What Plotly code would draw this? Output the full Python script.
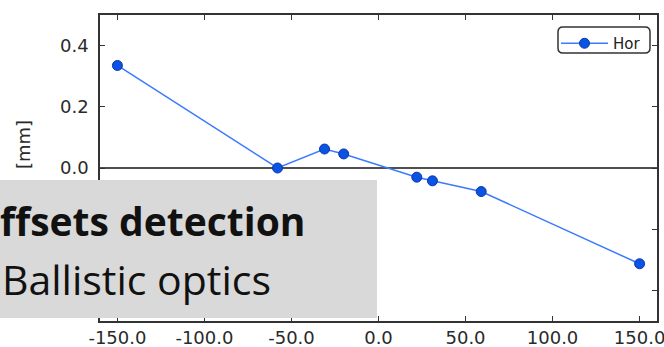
import plotly.graph_objects as go

# Horizontal offset measured at each position
position = [-150, -58, -31, -20, 22, 31, 59, 150]
offset_hor = [0.335, 0.0, 0.062, 0.046, -0.030, -0.042, -0.077, -0.313]

x_ticks = [-150, -100, -50, 0, 50, 100, 150]
y_ticks = [-0.4, -0.2, 0.0, 0.2, 0.4]
# negative y labels sit behind the caption panel
y_labels = ["", "", "0.0", "0.2", "0.4"]
x_labels = [f"{v:.1f}" for v in x_ticks]

FIG_W, FIG_H = 664, 347
M_L, M_R, M_T, M_B = 100, 7, 15, 26
PW = FIG_W - M_L - M_R
PH = FIG_H - M_T - M_B


def px(xp):
    return (xp - M_L) / PW


def py(yp):
    return (FIG_H - M_B - yp) / PH


def rounded_rect(x0, y0, x1, y1, r):
    # rounded rectangle path (pixel input, paper output)
    pts = [
        f"M {px(x0 + r)} {py(y0)}",
        f"L {px(x1 - r)} {py(y0)}",
        f"Q {px(x1)} {py(y0)} {px(x1)} {py(y0 + r)}",
        f"L {px(x1)} {py(y1 - r)}",
        f"Q {px(x1)} {py(y1)} {px(x1 - r)} {py(y1)}",
        f"L {px(x0 + r)} {py(y1)}",
        f"Q {px(x0)} {py(y1)} {px(x0)} {py(y1 - r)}",
        f"L {px(x0)} {py(y0 + r)}",
        f"Q {px(x0)} {py(y0)} {px(x0 + r)} {py(y0)}",
        "Z",
    ]
    return " ".join(pts)


fig = go.Figure()

fig.add_trace(go.Scatter(
    x=position, y=offset_hor, mode="lines+markers", name="Hor",
    line=dict(color="#3b7bff", width=1.5),
    marker=dict(size=10, color="#0b52e6", line=dict(color="#0a3a9e", width=1)),
))

axis_font = dict(family="DejaVu Sans", size=18, color="#2a2a2a")

fig.update_xaxes(
    range=[-160, 160], tickvals=x_ticks, ticktext=x_labels,
    ticks="inside", ticklen=5, tickwidth=1, tickcolor="#333",
    showline=True, linecolor="#333", linewidth=1.5, mirror="ticks",
    showgrid=False, zeroline=False, tickfont=axis_font, automargin=False,
    ticklabeloverflow="allow",
)
fig.update_yaxes(
    range=[-0.5, 0.5], tickvals=y_ticks, ticktext=y_labels,
    ticks="inside", ticklen=5, tickwidth=1, tickcolor="#333",
    showline=True, linecolor="#333", linewidth=1.5, mirror="ticks",
    showgrid=False, zeroline=True, zerolinecolor="#505050", zerolinewidth=2,
    tickfont=axis_font, ticklabelstandoff=6, automargin=False,
)

shapes = [
    # legend frame
    dict(type="path", xref="paper", yref="paper",
         path=rounded_rect(558, 27, 650, 53, 5),
         line=dict(color="#333", width=1.5), fillcolor="white", layer="above"),
    # caption panel
    dict(type="rect", xref="paper", yref="paper",
         x0=px(0), x1=px(377), y0=py(318), y1=py(180),
         fillcolor="#d9d9d9", line=dict(width=0), layer="above"),
]

annotations = [
    dict(text="[mm]", xref="paper", yref="paper", x=px(23), y=py(145),
         textangle=-90, showarrow=False, xanchor="center", yanchor="middle",
         font=dict(family="DejaVu Sans", size=18, color="#2a2a2a")),
    dict(text="<b>ffsets detection</b>", xref="paper", yref="paper",
         x=px(-2), y=py(220), showarrow=False, xanchor="left", yanchor="middle",
         font=dict(family="Open Sans", size=39, color="#111")),
    dict(text="Ballistic optics", xref="paper", yref="paper",
         x=px(0), y=py(279), showarrow=False, xanchor="left", yanchor="middle",
         font=dict(family="Open Sans", size=41, color="#111")),
]

fig.update_layout(
    width=FIG_W, height=FIG_H,
    margin=dict(l=M_L, r=M_R, t=M_T, b=M_B, autoexpand=False),
    paper_bgcolor="white", plot_bgcolor="white",
    showlegend=True,
    legend=dict(x=px(556), y=py(27), xanchor="left", yanchor="top",
                bgcolor="rgba(0,0,0,0)", borderwidth=0,
                font=dict(family="DejaVu Sans", size=15, color="#222"),
                itemwidth=47, tracegroupgap=0),
    shapes=shapes, annotations=annotations,
)

fig.write_html("out.html")
